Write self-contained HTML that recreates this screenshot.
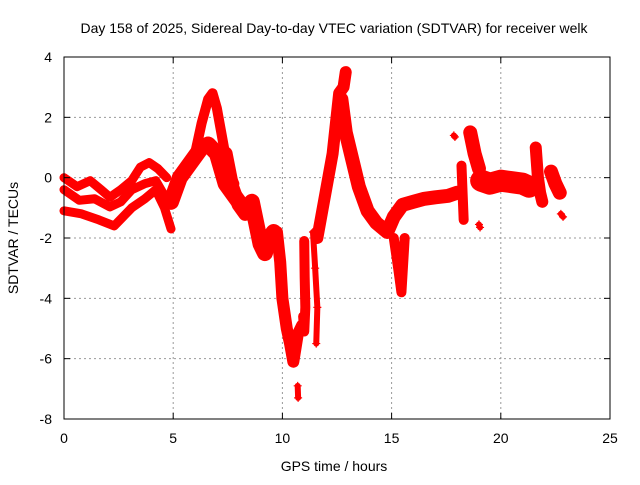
<!DOCTYPE html>
<html><head><meta charset="utf-8"><style>
body{margin:0;background:#fff;font-family:"Liberation Sans",sans-serif}
svg text{font-family:"Liberation Sans",sans-serif;font-size:14px;fill:#000}
</style></head><body>
<svg id="chart" width="640" height="480">
<text x="334" y="33" text-anchor="middle">Day 158 of 2025, Sidereal Day-to-day VTEC variation (SDTVAR) for receiver welk</text>
<text x="334" y="471" text-anchor="middle">GPS time / hours</text>
<text transform="translate(18,238) rotate(-90)" text-anchor="middle">SDTVAR / TECUs</text>
<g id="grid"></g><g id="marks"></g>
<rect x="64" y="57" width="546" height="362" fill="none" stroke="#000"/>
<g id="ticks"></g>
</svg>
<script>
const xTicks=[0,5,10,15,20,25];
const yTicks=[4,2,0,-2,-4,-6,-8];
const seriesT=[
[0,0.6,1.2,1.7,2.1,2.6,3.1,3.5,3.9,4.3,4.7],
[0,0.7,1.4,2.1,2.6,3.1,3.7,4.2,4.6],
[0,0.8,1.6,2.3,2.7,3.1,3.7,4.2,4.6,4.9],
[4.9,5.3,5.8,6.3,6.6,7.0,7.4,7.8,8.2],
[6.0,6.3,6.6,6.8,7.0,7.2,7.5,7.8],
[7.4,7.7,8.0,8.3],
[8.6,8.8,9.0,9.2,9.4,9.6],
[9.75,9.9,10.0,10.2,10.35,10.5,10.7,10.9],
[10.7,10.72],
[11.0,11.02,11.05,11.0,10.95],
[11.4,11.5,11.6,11.55],
[11.6,11.9,12.1,12.3,12.45,12.6,12.8,12.9],
[12.7,12.9,13.2,13.5,13.9,14.3,14.8,15.1,15.5,16.0,16.5,17.0,17.6,18.0],
[15.1,15.3,15.45,15.6],
[18.2,18.3],
[17.85,17.9],
[18.6,18.8,19.0],
[19.1,19.5,20.0,20.5,21.0,21.3],
[19.0,19.05],
[21.6,21.7,21.8,21.9],
[22.3,22.5,22.7],
[22.75,22.85]
];
const seriesV=[
[0,-0.3,-0.1,-0.4,-0.65,-0.4,-0.1,0.35,0.5,0.3,0.0],
[-0.4,-0.75,-0.7,-0.97,-0.8,-0.4,-0.2,-0.1,-0.6],
[-1.1,-1.2,-1.4,-1.6,-1.3,-1.0,-0.7,-0.4,-1.0,-1.7],
[-0.8,0.0,0.5,1.0,1.1,0.8,-0.2,-0.6,-1.0],
[0.8,1.8,2.6,2.8,2.3,1.5,0.3,-0.2],
[0.8,-0.3,-0.9,-1.2],
[-0.8,-1.5,-2.2,-2.5,-2.0,-1.8],
[-1.8,-2.8,-4.0,-5.0,-5.5,-6.1,-5.2,-4.9],
[-6.9,-7.3],
[-2.1,-3.3,-4.3,-5.1,-4.6],
[-1.8,-3.0,-4.3,-5.5],
[-2.0,-0.8,0.0,0.8,1.8,2.8,3.0,3.5],
[2.6,1.5,0.6,-0.3,-1.1,-1.5,-1.8,-1.3,-0.9,-0.8,-0.7,-0.65,-0.6,-0.5],
[-2.0,-3.0,-3.8,-2.0],
[0.4,-1.4],
[1.4,1.35],
[1.5,0.8,0.3],
[-0.1,-0.2,-0.1,-0.15,-0.2,-0.3],
[-1.55,-1.65],
[1.0,0.0,-0.5,-0.8],
[0.2,-0.2,-0.5],
[-1.2,-1.3]
];
const seriesW=[9,9,9,16,10,14,16,12,6,10,6,12,14,10,10,6,14,22,6,12,14,6];
const X=t=>64+t/25*546, Y=v=>57+(4-v)/12*362;
const NS="http://www.w3.org/2000/svg";
const grid=document.getElementById('grid'),ticks=document.getElementById('ticks'),marks=document.getElementById('marks');
function mk(tag,attrs,parent){const e=document.createElementNS(NS,tag);for(const k in attrs)e.setAttribute(k,attrs[k]);parent.appendChild(e);return e;}
xTicks.forEach(t=>{
 if(t>0&&t<25){const g=mk('line',{x1:X(t),x2:X(t),y1:57,y2:419,stroke:'#999','stroke-dasharray':'2,3'},grid);
 
 }
 mk('line',{x1:X(t),x2:X(t),y1:419,y2:413,stroke:'#000'},ticks);
 mk('line',{x1:X(t),x2:X(t),y1:57,y2:63,stroke:'#000'},ticks);
 const l=mk('text',{x:X(t),y:443,'text-anchor':'middle'},ticks);l.textContent=t;
 
 
});
yTicks.forEach(v=>{
 if(v<4&&v>-8){const g=mk('line',{x1:64,x2:610,y1:Y(v),y2:Y(v),stroke:'#999','stroke-dasharray':'2,3'},grid);
 
 }
 mk('line',{x1:64,x2:70,y1:Y(v),y2:Y(v),stroke:'#000'},ticks);
 mk('line',{x1:604,x2:610,y1:Y(v),y2:Y(v),stroke:'#000'},ticks);
 const l=mk('text',{x:52,y:Y(v)+5,'text-anchor':'end'},ticks);l.textContent=v;
 
 
});
seriesT.forEach((ts,i)=>{
 const vs=seriesV[i];
 const pts=ts.map((t,j)=>X(t)+','+Y(vs[j])).join(' ');
 const p=mk('polyline',{points:pts,fill:'none',stroke:'#f00','stroke-width':seriesW[i],'stroke-linejoin':'round','stroke-linecap':'round'},marks);
 
 
 ts.forEach((t,j)=>{
  const x=X(t),y=Y(vs[j]);
  const m=mk('path',{d:`M${x-4},${y}H${x+4}M${x},${y-4}V${y+4}`,stroke:'#f00','stroke-width':1.2},marks);
  
  
 });
});
</script>
</body></html>
